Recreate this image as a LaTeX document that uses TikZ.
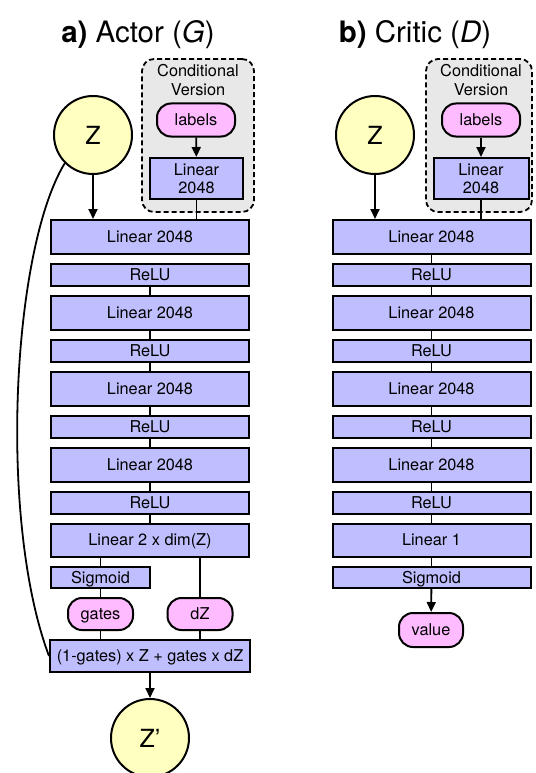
\documentclass[tikz,border=0pt]{standalone}
\usepackage{fontspec}
\setmainfont{TeX Gyre Heros}
\usetikzlibrary{arrows.meta}
\definecolor{boxc}{HTML}{BFBFFF}
\definecolor{pinkc}{HTML}{FFBBFF}
\definecolor{yelc}{HTML}{FFFFBF}
\definecolor{grayc}{HTML}{E8E8E8}
\begin{document}
\begin{tikzpicture}[x=1pt,y=-1pt,
  every node/.style={font=\fontsize{16.3}{18.5}\selectfont},
  lay/.style={draw, fill=boxc, line width=2pt, inner sep=0pt, text height=11.7pt, text depth=0pt, minimum height=34pt},
  wide/.style={minimum width=198pt},
  thin/.style={minimum height=22pt},
  pill/.style={draw, fill=pinkc, line width=2pt, rounded corners=14pt, inner sep=0pt, text height=11.7pt, text depth=0pt, minimum height=33pt},
  latent/.style={draw, fill=yelc, circle, line width=2pt, minimum size=78pt, inner sep=0pt, font=\fontsize{25}{28}\selectfont},
  condbox/.style={draw, fill=grayc, dash pattern=on 5pt off 3pt, line width=1.8pt, rounded corners=12pt, inner sep=0pt},
  title/.style={font=\fontsize{29.5}{32}\selectfont},
  conn/.style={line width=1.8pt},
  arr/.style={line width=1.8pt, -{Triangle[length=10pt,width=9pt]}}
]
\useasboundingbox (0,0) rectangle (535,773);

% ---------- a) Actor ----------
\node[title] (tA) at (138,35) {\textbf{a)} Actor (\textit{G})};
\node[condbox, minimum width=112pt, minimum height=153pt] (cbA) at (198,135.5) {};
\node[align=center] (ctA) at (198,80) {Conditional\\Version};
\node[pill, minimum width=78pt] (labA) at (196,120) {labels};
\node[lay, align=center, minimum width=93pt, minimum height=41pt, text height=, text depth=] (clA) at (196.5,178.5) {Linear\\2048};
\node[latent] (zA) at (93,135) {Z};

\node[lay, wide] (aL0) at (150,237) {Linear 2048};
\node[lay, wide, thin] (aR0) at (150,275) {ReLU};
\node[lay, wide] (aL1) at (150,313) {Linear 2048};
\node[lay, wide, thin] (aR1) at (150,351) {ReLU};
\node[lay, wide] (aL2) at (150,389) {Linear 2048};
\node[lay, wide, thin] (aR2) at (150,427) {ReLU};
\node[lay, wide] (aL3) at (150,465) {Linear 2048};
\node[lay, wide, thin] (aR3) at (150,503) {ReLU};
\node[lay, wide, minimum height=33pt] (aL4) at (150,540) {Linear 2 x dim(Z)};
\node[lay, minimum width=99pt, minimum height=21pt] (aSig) at (100.5,577.5) {Sigmoid};
\node[pill, minimum width=65pt, minimum height=32pt] (gates) at (100.5,614) {gates};
\node[pill, minimum width=65pt, minimum height=32pt] (dZ) at (200,614) {dZ};
\node[lay, minimum width=200pt, minimum height=32pt] (fm) at (150,656) {(1-gates) x Z + gates x dZ};
\node[latent] (zp) at (150,738) {Z’};

\draw[arr] (labA) -- (clA);
\draw[conn] (clA.south) -- (clA.south |- aL0.north);
\draw[arr] (zA.south) -- (zA.south |- aL0.north);
\draw[conn] (aR0) -- (aL1);
\draw[conn] (aL1) -- (aR1);
\draw[conn] (aR1) -- (aL2);
\draw[conn] (aL2) -- (aR2);
\draw[conn] (aR2) -- (aL3);
\draw[conn] (aL3) -- (aR3);
\draw[conn] (aR3) -- (aL4);
\draw[conn] (aSig.north |- aL4.south) -- (aSig.north);
\draw[conn] (dZ.north |- aL4.south) -- (dZ.north);
\draw[conn] (aSig) -- (gates);
\draw[conn] (gates.south) -- (gates.south |- fm.north);
\draw[conn] (dZ.south) -- (dZ.south |- fm.north);
\draw[arr] (fm) -- (zp);
\draw[conn] (zA.225) .. controls (12,250) and (-2,520) .. (fm.west);

% ---------- b) Critic ----------
\node[title] (tB) at (415,35) {\textbf{b)} Critic (\textit{D})};
\node[condbox, minimum width=106pt, minimum height=153pt] (cbB) at (479,135.5) {};
\node[align=center] (ctB) at (481,80) {Conditional\\Version};
\node[pill, minimum width=78pt] (labB) at (481,120) {labels};
\node[lay, align=center, minimum width=95pt, minimum height=41pt, text height=, text depth=] (clB) at (481,178.5) {Linear\\2048};
\node[latent] (zB) at (375,135) {Z};

\node[lay, wide] (bL0) at (431.5,237) {Linear 2048};
\node[lay, wide, thin] (bR0) at (431.5,275) {ReLU};
\node[lay, wide] (bL1) at (431.5,313) {Linear 2048};
\node[lay, wide, thin] (bR1) at (431.5,351) {ReLU};
\node[lay, wide] (bL2) at (431.5,389) {Linear 2048};
\node[lay, wide, thin] (bR2) at (431.5,427) {ReLU};
\node[lay, wide] (bL3) at (431.5,465) {Linear 2048};
\node[lay, wide, thin] (bR3) at (431.5,503) {ReLU};
\node[lay, wide, minimum height=33pt] (bL4) at (431.5,540) {Linear 1};
\node[lay, wide, minimum height=21pt] (bSig) at (431.5,577.5) {Sigmoid};
\node[pill, minimum width=64pt, minimum height=34pt] (val) at (431,630) {value};

\draw[arr] (labB) -- (clB);
\draw[conn] (clB.south) -- (clB.south |- bL0.north);
\draw[arr] (zB.south) -- (zB.south |- bL0.north);
\draw[conn] (bL0) -- (bR0);
\draw[conn] (bR0) -- (bL1);
\draw[conn] (bL1) -- (bR1);
\draw[conn] (bR1) -- (bL2);
\draw[conn] (bL2) -- (bR2);
\draw[conn] (bR2) -- (bL3);
\draw[conn] (bL3) -- (bR3);
\draw[conn] (bR3) -- (bL4);
\draw[conn] (bL4) -- (bSig);
\draw[arr] (bSig) -- (val);
\end{tikzpicture}
\end{document}
